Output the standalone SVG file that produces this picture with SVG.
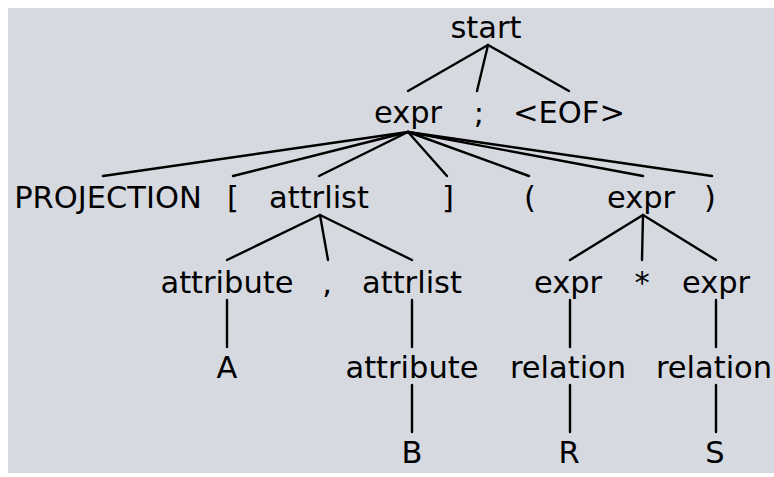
<svg xmlns="http://www.w3.org/2000/svg" width="774" height="477" viewBox="0 0 774 477">
<style>
text{font-family:"DejaVu Sans","Liberation Sans",sans-serif;font-size:30.5px;fill:#000;text-anchor:middle}
.e line{stroke:#000;stroke-width:2.4;stroke-linecap:round}
</style>
<rect x="0" y="0" width="774" height="477" fill="#ffffff"/>
<rect x="8" y="8" width="766" height="465" fill="#d6d9e0"/>
<g class="e" id="connectors">
<line x1="488" y1="45" x2="408" y2="91"/>
<line x1="488" y1="45" x2="477" y2="91"/>
<line x1="488" y1="45" x2="569" y2="91"/>
<line x1="408" y1="132" x2="103" y2="176"/>
<line x1="408" y1="132" x2="233" y2="176"/>
<line x1="408" y1="132" x2="319" y2="176"/>
<line x1="408" y1="132" x2="447" y2="176"/>
<line x1="408" y1="132" x2="529" y2="176"/>
<line x1="408" y1="132" x2="643" y2="176"/>
<line x1="408" y1="132" x2="712" y2="176"/>
<line x1="320" y1="215" x2="227" y2="260"/>
<line x1="320" y1="215" x2="328" y2="260"/>
<line x1="320" y1="215" x2="412" y2="260"/>
<line x1="643" y1="215" x2="570" y2="260"/>
<line x1="643" y1="215" x2="642" y2="260"/>
<line x1="643" y1="215" x2="716" y2="260"/>
<line x1="227" y1="300" x2="227" y2="347"/>
<line x1="412" y1="300" x2="412" y2="347"/>
<line x1="570" y1="300" x2="570" y2="347"/>
<line x1="716" y1="300" x2="716" y2="347"/>
<line x1="412" y1="385" x2="412" y2="432"/>
<line x1="570" y1="385" x2="570" y2="432"/>
<line x1="716" y1="385" x2="716" y2="432"/>
</g>
<g id="n-start"><text x="486" y="38">start</text></g>
<g id="n-expr0"><text x="408" y="123">expr</text></g>
<g id="n-semi"><text x="479" y="123">;</text></g>
<g id="n-eof"><text x="569" y="123">&lt;EOF&gt;</text></g>
<g id="n-projection"><text x="108" y="208">PROJECTION</text></g>
<g id="n-lbrack"><text x="233" y="208">[</text></g>
<g id="n-attrlist1"><text x="319" y="208">attrlist</text></g>
<g id="n-rbrack"><text x="448" y="208">]</text></g>
<g id="n-lparen"><text x="530" y="208">(</text></g>
<g id="n-expr1"><text x="641" y="208">expr</text></g>
<g id="n-rparen"><text x="710" y="208">)</text></g>
<g id="n-attribute1"><text x="227" y="293">attribute</text></g>
<g id="n-comma"><text x="327" y="293">,</text></g>
<g id="n-attrlist2"><text x="412" y="293">attrlist</text></g>
<g id="n-expr2"><text x="568" y="293">expr</text></g>
<g id="n-star"><text x="642" y="293">*</text></g>
<g id="n-expr3"><text x="716" y="293">expr</text></g>
<g id="n-A"><text x="227" y="378">A</text></g>
<g id="n-attribute2"><text x="412" y="378">attribute</text></g>
<g id="n-relation1"><text x="568" y="378">relation</text></g>
<g id="n-relation2"><text x="714" y="378">relation</text></g>
<g id="n-B"><text x="412" y="463">B</text></g>
<g id="n-R"><text x="569" y="463">R</text></g>
<g id="n-S"><text x="715" y="463">S</text></g>
</svg>
